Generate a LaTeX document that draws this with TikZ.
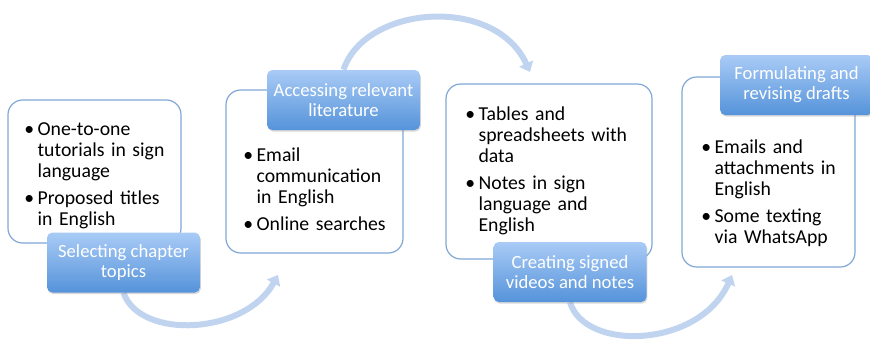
\documentclass[tikz,border=0pt]{standalone}
\usepackage{fontspec}
\setmainfont{Carlito}
\usepackage{enumitem}
\usetikzlibrary{arrows.meta,shadows,backgrounds}

\definecolor{panelblue}{HTML}{7FA7D6}
\definecolor{labeltop}{HTML}{A9CBF6}
\definecolor{labelbot}{HTML}{5593DA}
\definecolor{arcblue}{HTML}{C0D4F0}

\newcommand{\bodyfont}{\fontsize{14.8}{15.75}\selectfont}
\newcommand{\stagefont}{\fontsize{14}{15}\selectfont}
\newlist{blist}{itemize}{1}
\setlist[blist]{label=\textbullet, leftmargin=8.5pt, labelsep=2.5pt, nosep, itemsep=4.5pt}

\begin{document}
\begin{tikzpicture}[x=0.75pt, y=-0.75pt,
    panel/.style={draw=panelblue, line width=0.9pt, rounded corners=11pt, fill=white},
    points/.style={inner sep=0pt, anchor=north west, text width=150pt, font=\bodyfont},
    stage/.style={rounded corners=4pt, top color=labeltop, bottom color=labelbot,
        text=white, align=center, font=\stagefont, inner sep=2pt,
        minimum width=114.75pt, minimum height=45pt,
        drop shadow={shadow xshift=0.6pt, shadow yshift=-1.2pt, opacity=0.3}},
    flow/.style={draw=arcblue, line width=4.5pt, -{Triangle[width=11pt,length=7pt]}}]
    \useasboundingbox (0,0) rectangle (870,339);

    % white panels
    \node[panel, minimum width=129.75pt, minimum height=107.25pt] (P1) at (94.5,171.5) {};
    \node[panel, minimum width=132.75pt, minimum height=122.25pt] (P2) at (314.5,171.5) {};
    \node[panel, minimum width=154.5pt, minimum height=131.25pt] (P3) at (549,171.5) {};
    \node[panel, minimum width=129.75pt, minimum height=142.5pt] (P4) at (768.5,172) {};

    % bullet lists
    \node[points] (T1) at (26,114) {\begin{blist}
        \item One-to-one\\tutorials in sign\\language
        \item Proposed titles\\in English
      \end{blist}};
    \node[points] (T2) at (245,140) {\begin{blist}
        \item Email\\communication\\in English
        \item Online searches
      \end{blist}};
    \node[points] (T3) at (467,99) {\begin{blist}
        \item Tables and\\spreadsheets with\\data
        \item Notes in sign\\language and\\English
      \end{blist}};
    \node[points] (T4) at (703,132) {\begin{blist}
        \item Emails and\\attachments in\\English
        \item Some texting\\via WhatsApp
      \end{blist}};

    % blue stage labels
    \node[stage] (L1) at (123.5,262.5) {Selecting chapter\\topics};
    \node[stage] (L2) at (343.5,100) {Accessing relevant\\literature};
    \node[stage] (L3) at (570,272) {Creating signed\\videos and notes};
    \node[stage] (L4) at (796.5,85) {Formulating and\\revising drafts};

    % the three curved arrows
    \coordinate (E1) at (278,275);
    \coordinate (E2) at (530,72);
    \coordinate (E3) at (732,275);
    \begin{scope}[on background layer]
      \draw[flow] (L1.south) .. controls (140,340) and (245,335) .. (E1);
      \draw[flow] (L2.north) .. controls (365,5) and (495,-5) .. (E2);
      \draw[flow] (L3.south) .. controls (585,352) and (700,348) .. (E3);
    \end{scope}

\end{tikzpicture}
\end{document}
